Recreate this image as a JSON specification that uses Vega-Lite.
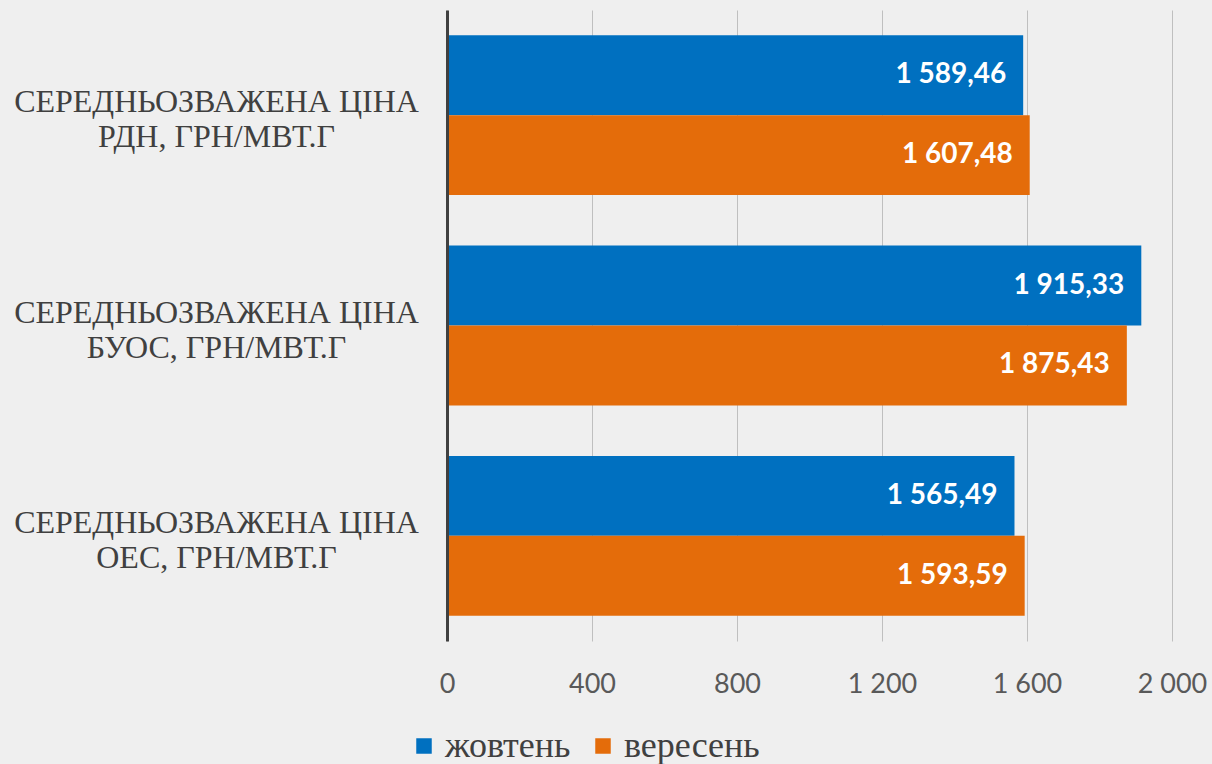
{
  "$schema": "https://vega.github.io/schema/vega-lite/v6.json",
  "width": 725,
  "height": 631,
  "autosize": {"type": "none"},
  "padding": {"left": 447, "top": 10, "right": 40, "bottom": 123},
  "background": "#efefef",
  "config": {
    "locale": {"number": {"decimal": ",", "thousands": " ", "grouping": [3], "currency": ["", ""]}},
    "view": {"stroke": null}
  },
  "data": {
    "values": [
      {"cat": "СЕРЕДНЬОЗВАЖЕНА ЦІНА|РДН, ГРН/МВТ.Г", "month": "жовтень", "value": 1589.46},
      {"cat": "СЕРЕДНЬОЗВАЖЕНА ЦІНА|РДН, ГРН/МВТ.Г", "month": "вересень", "value": 1607.48},
      {"cat": "СЕРЕДНЬОЗВАЖЕНА ЦІНА|БУОС, ГРН/МВТ.Г", "month": "жовтень", "value": 1915.33},
      {"cat": "СЕРЕДНЬОЗВАЖЕНА ЦІНА|БУОС, ГРН/МВТ.Г", "month": "вересень", "value": 1875.43},
      {"cat": "СЕРЕДНЬОЗВАЖЕНА ЦІНА|ОЕС, ГРН/МВТ.Г", "month": "жовтень", "value": 1565.49},
      {"cat": "СЕРЕДНЬОЗВАЖЕНА ЦІНА|ОЕС, ГРН/МВТ.Г", "month": "вересень", "value": 1593.59}
    ]
  },
  "encoding": {
    "y": {
      "field": "cat",
      "type": "nominal",
      "sort": null,
      "scale": {"paddingInner": 0.24, "paddingOuter": 0.12},
      "axis": {
        "title": null,
        "labelExpr": "split(datum.label, '|')",
        "labelFont": "Liberation Serif",
        "labelFontSize": 32,
        "labelColor": "#404040",
        "labelAlign": "center",
        "labelBaseline": "middle",
        "labelPadding": 231,
        "labelLineHeight": 35,
        "labelOffset": -13,
        "labelLimit": 0,
        "ticks": false,
        "domainColor": "#404040",
        "domainWidth": 3,
        "zindex": 2
      }
    },
    "yOffset": {"field": "month", "type": "nominal", "scale": {"domain": ["жовтень", "вересень"]}},
    "x": {
      "field": "value",
      "type": "quantitative",
      "scale": {"domain": [0, 2000]},
      "axis": {
        "title": null,
        "values": [0, 400, 800, 1200, 1600, 2000],
        "format": ",d",
        "grid": true,
        "gridColor": "#bfbfbf",
        "domain": false,
        "ticks": false,
        "labelFlush": false,
        "labelFont": "Lato",
        "labelFontSize": 27,
        "labelColor": "#595959",
        "labelPadding": 30
      }
    }
  },
  "layer": [
    {
      "mark": {"type": "bar"},
      "encoding": {
        "color": {
          "field": "month",
          "type": "nominal",
          "scale": {"domain": ["жовтень", "вересень"], "range": ["#0070C0", "#E46C0A"]},
          "legend": {
            "title": null,
            "orient": "none",
            "direction": "horizontal",
            "legendX": -41,
            "legendY": 718,
            "symbolType": "square",
            "symbolSize": 240,
            "symbolStrokeWidth": 0,
            "labelFont": "Liberation Serif",
            "labelFontSize": 36,
            "labelColor": "#404040",
            "columnPadding": 14,
            "labelOffset": 3
          }
        }
      }
    },
    {
      "mark": {"type": "text", "align": "right", "baseline": "middle", "dx": -17, "color": "white", "font": "Lato", "fontWeight": "bold", "fontSize": 28},
      "encoding": {
        "text": {"field": "value", "type": "quantitative", "format": ",.2f"}
      }
    }
  ]
}
